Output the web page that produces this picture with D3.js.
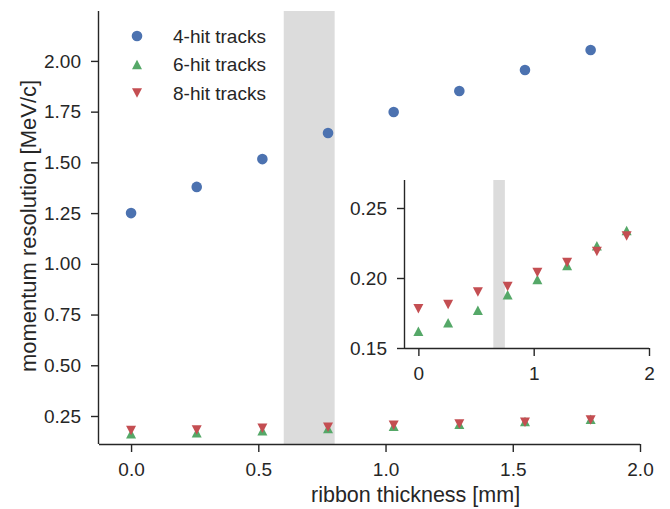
<!DOCTYPE html>
<html><head><meta charset="utf-8">
<script src="https://cdn.jsdelivr.net/npm/d3@7"></script>
<style>body{margin:0;background:#fff}svg{display:block}text{font-family:"Liberation Sans",Arial,sans-serif;fill:#262626}</style>
</head><body><svg id="c" width="670" height="509"></svg>
<script>
const thickness = [0.0, 0.258, 0.516, 0.774, 1.032, 1.29, 1.548, 1.806];
const hit4 = [1.25, 1.379, 1.516, 1.645, 1.748, 1.852, 1.955, 2.054];
const hit6 = [0.162, 0.168, 0.177, 0.188, 0.199, 0.209, 0.223, 0.234];
const hit8 = [0.178, 0.181, 0.190, 0.194, 0.204, 0.211, 0.219, 0.230];
const seriesNames = ["4-hit tracks", "6-hit tracks", "8-hit tracks"];
const mainXTicks = [0.0, 0.5, 1.0, 1.5, 2.0];
const mainYTicks = [0.25, 0.5, 0.75, 1.0, 1.25, 1.5, 1.75, 2.0];
const insetXTicks = [0, 1, 2];
const insetYTicks = [0.15, 0.20, 0.25];
const mainBand = [0.6, 0.8];
const insetBand = [0.65, 0.75];

const colors = ["#4C72B0", "#55A868", "#C44E52"];
const ink = "#262626";
const FS = 19;
const LFS = 22;
const svg = d3.select("#c");

function drawMarker(g, type, cx, cy, col, s) {
  if (type === 0) {
    g.append("circle").attr("cx", cx).attr("cy", cy).attr("r", s * 0.53).attr("fill", col);
  } else {
    const h = s * 0.95, w = s * 1.0;
    const dir = type === 1 ? 1 : -1;
    const pts = [[cx, cy - dir * h * 0.5], [cx - w / 2, cy + dir * h * 0.5], [cx + w / 2, cy + dir * h * 0.5]];
    g.append("path").attr("d", "M" + pts.map(p => p.join(",")).join("L") + "Z").attr("fill", col);
  }
}

function panel(cfg) {
  const g = svg.append("g");
  const x = d3.scaleLinear().domain(cfg.xd).range([cfg.l, cfg.r]);
  const y = d3.scaleLinear().domain(cfg.yd).range([cfg.b, cfg.t]);
  if (cfg.fill) g.append("rect").attr("x", cfg.l).attr("y", cfg.t).attr("width", cfg.r - cfg.l).attr("height", cfg.b - cfg.t).attr("fill", "#fff");
  g.append("rect").attr("x", x(cfg.band[0])).attr("y", cfg.t).attr("width", x(cfg.band[1]) - x(cfg.band[0])).attr("height", cfg.b - cfg.t).attr("fill", "#dcdcdc");
  const xa = g.append("g").attr("transform", `translate(0,${cfg.b})`)
    .call(d3.axisBottom(x).tickValues(cfg.xt).tickFormat(cfg.xf).tickSize(8).tickPadding(cfg.xpad).tickSizeOuter(0));
  const ya = g.append("g").attr("transform", `translate(${cfg.l},0)`)
    .call(d3.axisLeft(y).tickValues(cfg.yt).tickFormat(d3.format(".2f")).tickSize(8).tickPadding(cfg.ypad).tickSizeOuter(0));
  [xa, ya].forEach(a => {
    a.select(".domain").attr("stroke", ink).attr("stroke-width", 1.4);
    a.selectAll(".tick line").attr("stroke", ink).attr("stroke-width", 1.4);
    a.selectAll("text").attr("font-size", FS).attr("fill", ink).style("font-family", "Liberation Sans, Arial, sans-serif");
  });
  xa.select(".domain").attr("d", `M${cfg.l},0.5H${cfg.r}`);
  ya.select(".domain").attr("d", `M-0.5,${cfg.t}V${cfg.b}`);
  const series = [hit4, hit6, hit8];
  cfg.series.forEach(si => {
    series[si].forEach((v, i) => drawMarker(g, si, x(thickness[i]), y(v), colors[si], cfg.ms));
  });
  return {g, x, y};
}

// main
panel({l: 99, r: 640, t: 11, b: 444, xd: [-0.126, 2.0], yd: [0.112, 2.246],
  xt: mainXTicks, yt: mainYTicks, xf: d3.format(".1f"), band: mainBand, series: [0, 1, 2], ms: 10, xpad: 11, ypad: 10});

// inset
panel({l: 405, r: 649, t: 180, b: 348, xd: [-0.116, 2.0], yd: [0.15, 0.27],
  xt: insetXTicks, yt: insetYTicks, xf: d3.format("d"), band: insetBand, series: [1, 2], ms: 10, fill: true, xpad: 11, ypad: 10});

// axis labels
svg.append("text").attr("x", 311).attr("y", 502).attr("text-anchor", "start").attr("font-size", LFS - 0.5).text("ribbon thickness [mm]");
svg.append("text").attr("transform", "translate(36,226) rotate(-90)").attr("text-anchor", "middle").attr("font-size", LFS).text("momentum resolution [MeV/c]");

// legend
const leg = svg.append("g");
seriesNames.forEach((n, i) => {
  const cy = 36 + i * 28.5;
  drawMarker(leg, i, 137, cy, colors[i], 10);
  leg.append("text").attr("x", 173).attr("y", cy).attr("dy", "0.35em").attr("font-size", FS).text(n);
});
</script></body></html>
